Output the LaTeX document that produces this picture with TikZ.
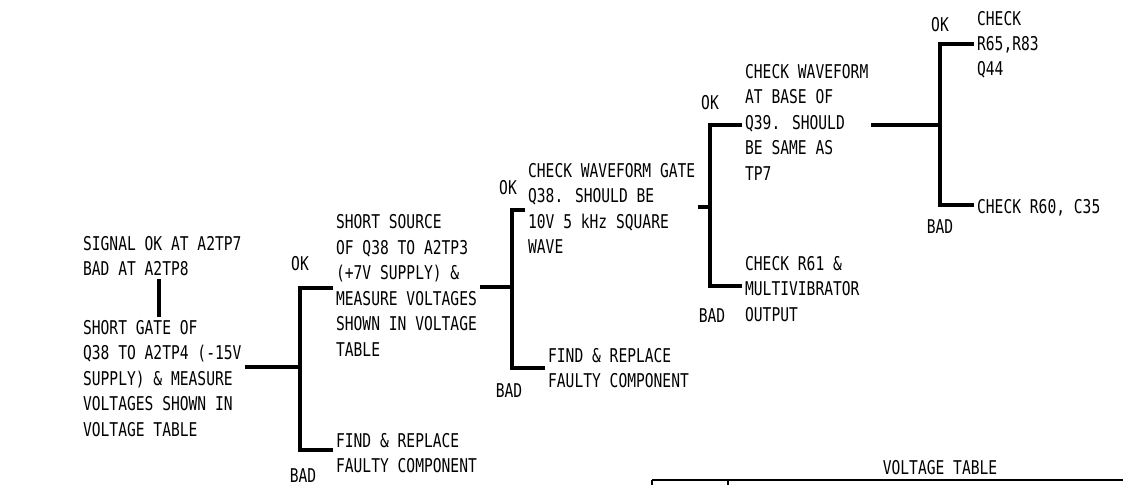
\documentclass[tikz,border=0pt]{standalone}
\usepackage{fontspec}
\newfontfamily\chartfont[FakeStretch=0.77]{DejaVu Sans Mono}
\begin{document}
\begin{tikzpicture}[x=0.025cm, y=-0.025cm,
    txt/.style={anchor=base west, align=left, inner sep=2pt,
        font=\chartfont\fontsize{13.5}{18.1}\selectfont},
    lbl/.style={anchor=base, inner sep=0pt,
        font=\chartfont\fontsize{13.5}{18.1}\selectfont},
    tak/.style={line width=3.5pt, line join=miter}]
    \useasboundingbox (0,0) rectangle (1123,485);

    % Begin (base = laatste regel)
    \node[txt] (sig) at (80,275.5) {SIGNAL OK AT A2TP7\\BAD AT A2TP8};
    \node[txt] (gate) at (80,436) {SHORT GATE OF\\Q38 TO A2TP4 (-15V\\SUPPLY) \& MEASURE\\VOLTAGES SHOWN IN\\VOLTAGE TABLE};
    \coordinate (s) at (159,0);
    \draw[tak] (s |- sig.south) -- (s |- gate.north);

    % Tak 1
    \coordinate (b1) at (300,367);
    \node[txt] (src) at (333,356) {SHORT SOURCE\\OF Q38 TO A2TP3\\(+7V SUPPLY) \&\\MEASURE VOLTAGES\\SHOWN IN VOLTAGE\\TABLE};
    \node[txt] (fix1) at (333,472.5) {FIND \& REPLACE\\FAULTY COMPONENT};
    \draw[tak] (gate.east |- b1) -- (b1);
    \draw[tak] (src.west |- 0,288) -| (b1) |- (fix1.west |- 0,450);
    \node[lbl] (ok1) at (300,270) {OK};
    \node[lbl] (bad1) at (303,482) {BAD};

    % Tak 2
    \coordinate (b2) at (512,287);
    \node[txt] (wave) at (525,253.5) {CHECK WAVEFORM GATE\\Q38. SHOULD BE\\10V 5 kHz SQUARE\\WAVE};
    \node[txt] (fix2) at (545,387.5) {FIND \& REPLACE\\FAULTY COMPONENT};
    \draw[tak] (src.east |- b2) -- (b2);
    \draw[tak] (wave.west |- 0,210) -| (b2) |- (fix2.west |- 0,368);
    \node[lbl] (ok2) at (508,195) {OK};
    \node[lbl] (bad2) at (509,397) {BAD};

    % Tak 3
    \coordinate (b3) at (710,207);
    \node[txt] (base) at (742,180) {CHECK WAVEFORM\\AT BASE OF\\Q39. SHOULD\\BE SAME AS\\TP7};
    \node[txt] (mv) at (742,321) {CHECK R61 \&\\MULTIVIBRATOR\\OUTPUT};
    \draw[tak] (wave.east |- b3) -- (b3);
    \draw[tak] (base.west |- 0,125) -| (b3) |- (mv.west |- 0,286);
    \node[lbl] (ok3) at (710,110) {OK};
    \node[lbl] (bad3) at (712,322) {BAD};

    % Tak 4
    \coordinate (b4) at (940,125);
    \node[txt] (r65) at (974,76) {CHECK\\R65,R83\\Q44};
    \node[txt] (r60) at (974,213) {CHECK R60, C35};
    \draw[tak] (base.east |- b4) -- (b4);
    \draw[tak] (r65.west |- 0,44) -| (b4) |- (r60.west |- 0,205);
    \node[lbl] (ok4) at (940,32) {OK};
    \node[lbl] (bad4) at (940,233) {BAD};

    % Spanningstabel
    \node[lbl] (vt) at (940,474) {VOLTAGE TABLE};
    \coordinate (tl) at (652,480);
    \coordinate (tr) at (1123,480);
    \draw[line width=1.5pt] (tl) -- (tr);
    \draw[line width=1.5pt] (tl) -- ++(0,8);
    \draw[line width=1.5pt] (728,480) -- ++(0,8);
\end{tikzpicture}
\end{document}
